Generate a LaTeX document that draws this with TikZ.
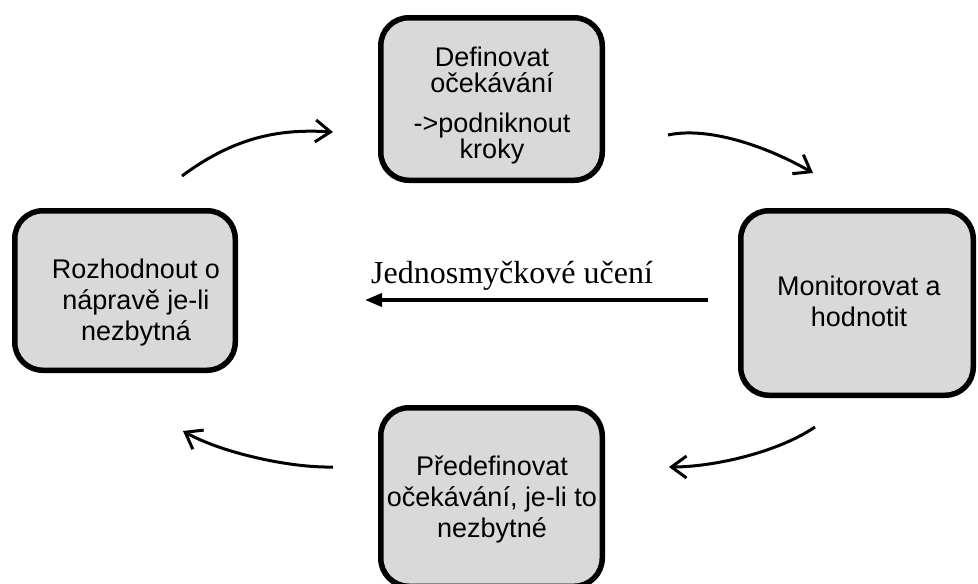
\documentclass[tikz,border=0pt]{standalone}
\usepackage{fontspec}
\setmainfont{Liberation Sans}
\newfontfamily\serifface{Liberation Serif}
\usetikzlibrary{arrows.meta}
\begin{document}
\begin{tikzpicture}[x=1pt,y=-1pt,
  stagebox/.style={draw=black, line width=5.5pt, fill=black!15,
    rounded corners=28pt, inner sep=0pt, outer sep=0pt},
  stagetext/.style={align=center, inner sep=0pt,
    font=\fontsize{27}{31}\selectfont},
  cyclearrow/.style={line width=3pt,
    -{Straight Barb[length=15pt,width=22pt,line width=3pt]}},
  loopline/.style={line width=3.5pt, -{Triangle[length=17pt,width=13pt]}}]
\useasboundingbox (0,0) rectangle (978,584);
\clip (0,0) rectangle (978,584);

% the four stages of the cycle
\node[stagebox, minimum width=221.5pt, minimum height=162.5pt] (define) at (491.5,99) {};
\node[stagebox, minimum width=232.5pt, minimum height=184.5pt] (monitor) at (857,303) {};
\node[stagebox, minimum width=221.5pt, minimum height=178.5pt] (redefine) at (491.5,497) {};
\node[stagebox, minimum width=220.5pt, minimum height=159.5pt] (decide) at (125,290.5) {};

\node[stagetext, font=\fontsize{27}{26}\selectfont] (defineText) at (492,106)
  {Definovat\\očekávání\\[14pt]->podniknout\\kroky};
\node[stagetext] (monitorText) at (859,301) {Monitorovat a\\hodnotit};
\node[stagetext] (redefineText) at (492,499) {Předefinovat\\očekávání, je-li to\\nezbytné};
\node[stagetext] (decideText) at (136,303) {Rozhodnout o\\nápravě je-li\\nezbytná};

% curved arrows between the stages
\coordinate (tlA) at (182,176); \coordinate (tlB) at (333,132);
\coordinate (trA) at (668,135); \coordinate (trB) at (813,173);
\coordinate (brA) at (815,427); \coordinate (brB) at (669,467);
\coordinate (blA) at (333,467); \coordinate (blB) at (183,431);
\draw[cyclearrow] (tlA) .. controls (237,135) and (283,129) .. (tlB);
\draw[cyclearrow] (trA) .. controls (710,126) and (770,148) .. (trB);
\draw[cyclearrow] (brA) .. controls (775,454) and (710,467) .. (brB);
\draw[cyclearrow] (blA) .. controls (288,468) and (220,452) .. (blB);

% single-loop learning arrow
\coordinate (loopstart) at (708,300);
\coordinate (loopend) at (365,300);
\draw[loopline] (loopstart) -- (loopend);
\node[font=\serifface\fontsize{32}{32}\selectfont, anchor=base west,
  inner sep=0pt] (looplabel) at (371,283) {Jednosmyčkové učení};
\end{tikzpicture}
\end{document}
